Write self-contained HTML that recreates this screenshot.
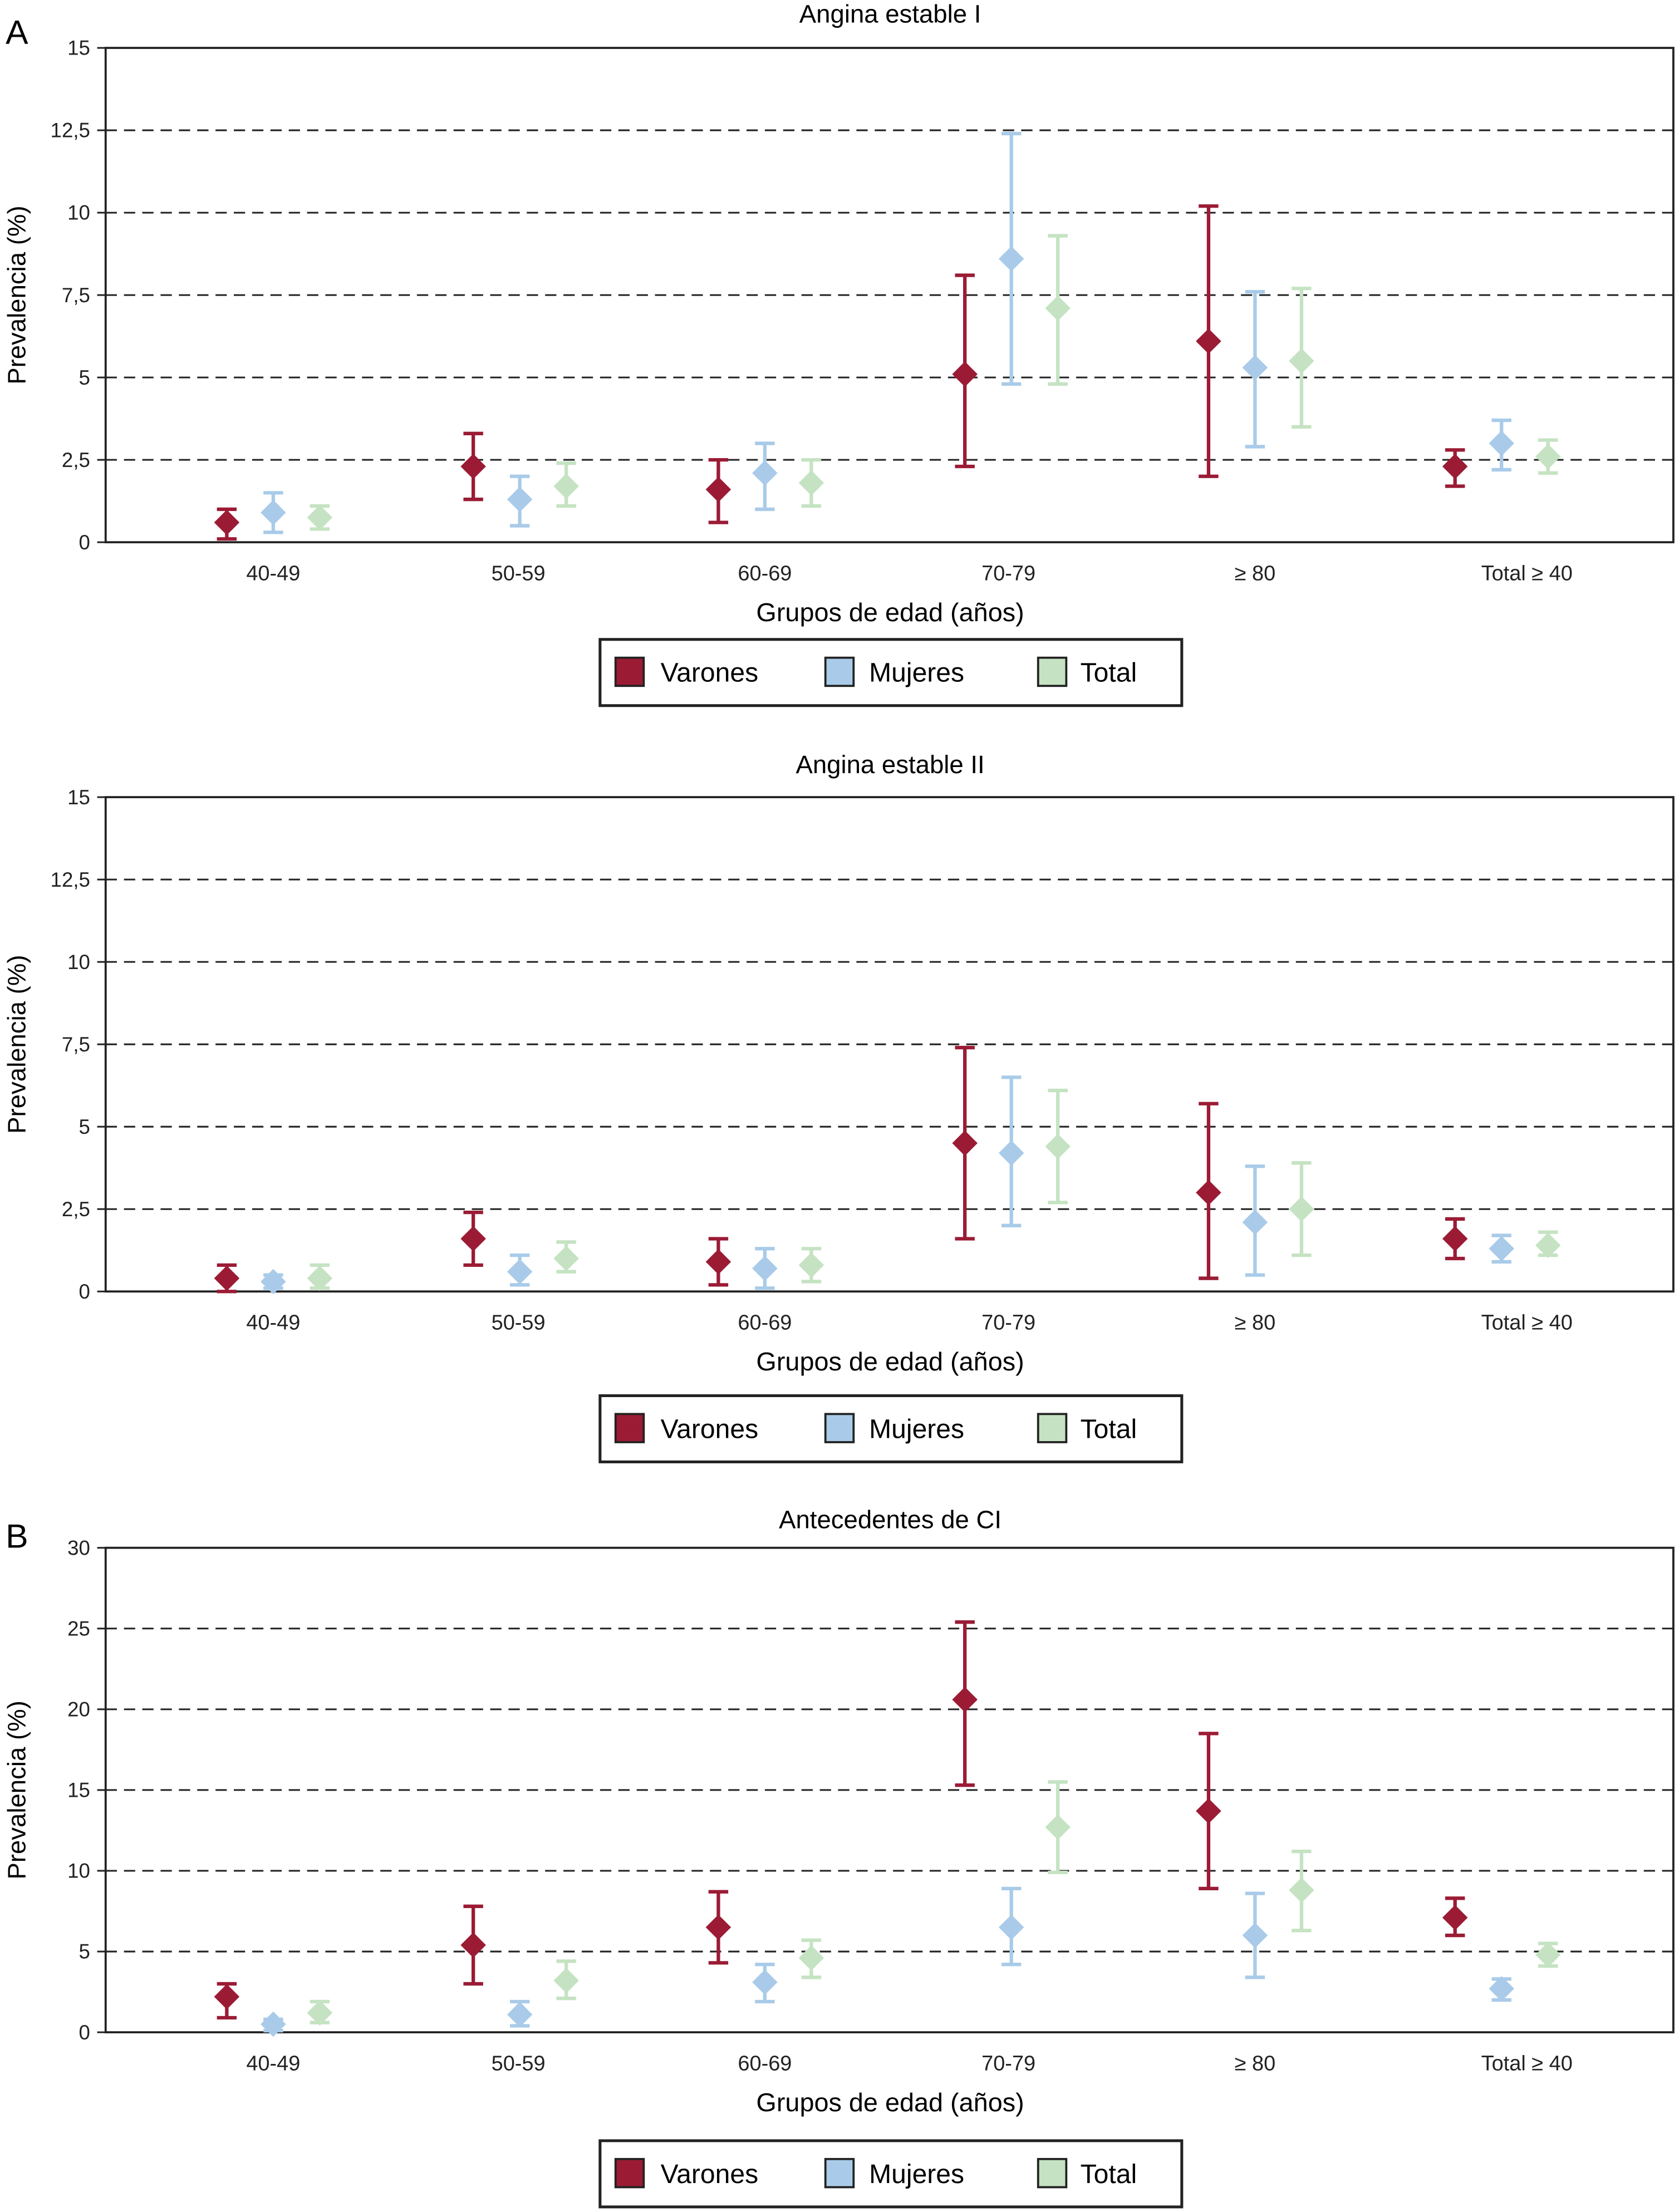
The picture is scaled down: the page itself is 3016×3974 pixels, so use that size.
<!DOCTYPE html>
<html><head><meta charset="utf-8"><style>html,body{margin:0;padding:0;background:#fff}svg{display:block}</style></head>
<body>
<svg id="fig" xmlns="http://www.w3.org/2000/svg" width="3016" height="3974" viewBox="0 0 1192 1570.6" font-family="Liberation Sans, sans-serif">
<text x="4" y="31" font-size="24">A</text>
<text x="4" y="1099" font-size="24">B</text>
</svg>
<script>
const categories = ["40-49","50-59","60-69","70-79","\u2265 80","Total \u2265 40"];
const seriesNames = ["Varones","Mujeres","Total"];
const colors = ["#9b1b35","#a9cbe9","#c5e3c2"];
// Panel 1: Angina estable I
const p1Mean = [[0.6,2.3,1.6,5.1,6.1,2.3],[0.9,1.3,2.1,8.6,5.3,3.0],[0.75,1.7,1.8,7.1,5.5,2.6]];
const p1Low  = [[0.1,1.3,0.6,2.3,2.0,1.7],[0.3,0.5,1.0,4.8,2.9,2.2],[0.4,1.1,1.1,4.8,3.5,2.1]];
const p1High = [[1.0,3.3,2.5,8.1,10.2,2.8],[1.5,2.0,3.0,12.4,7.6,3.7],[1.1,2.4,2.5,9.3,7.7,3.1]];
const p1Ticks = ["0","2,5","5","7,5","10","12,5","15"];
// Panel 2: Angina estable II
const p2Mean = [[0.4,1.6,0.9,4.5,3.0,1.6],[0.3,0.6,0.7,4.2,2.1,1.3],[0.4,1.0,0.8,4.4,2.5,1.4]];
const p2Low  = [[0.0,0.8,0.2,1.6,0.4,1.0],[0.1,0.2,0.1,2.0,0.5,0.9],[0.1,0.6,0.3,2.7,1.1,1.1]];
const p2High = [[0.8,2.4,1.6,7.4,5.7,2.2],[0.5,1.1,1.3,6.5,3.8,1.7],[0.8,1.5,1.3,6.1,3.9,1.8]];
const p2Ticks = ["0","2,5","5","7,5","10","12,5","15"];
// Panel B: Antecedentes de CI
const p3Mean = [[2.2,5.4,6.5,20.6,13.7,7.1],[0.5,1.1,3.1,6.5,6.0,2.7],[1.2,3.2,4.6,12.7,8.8,4.8]];
const p3Low  = [[0.9,3.0,4.3,15.3,8.9,6.0],[0.1,0.4,1.9,4.2,3.4,2.0],[0.6,2.1,3.4,9.9,6.3,4.1]];
const p3High = [[3.0,7.8,8.7,25.4,18.5,8.3],[0.8,1.9,4.2,8.9,8.6,3.3],[1.9,4.4,5.7,15.5,11.2,5.5]];
const p3Ticks = ["0","5","10","15","20","25","30"];

const NS="http://www.w3.org/2000/svg";
const svg=document.getElementById('fig');
function mk(tag,attrs,parent){const e=document.createElementNS(NS,tag);for(const k in attrs)e.setAttribute(k,attrs[k]);(parent||svg).appendChild(e);return e;}
// band positions (x-axis function): equally spaced-ish category bands
const L=75,R=1188;
function bandX(i){return [194,369,543,718,891,1066][i];}
function labelX(i){return [194,368,543,716,891,1084][i];}
function panel(cfg){
  const g=mk('g',{});
  
  
  const T=cfg.top,B=cfg.bottom,max=cfg.max;
  const y=v=>B-(v/max)*(B-T);
  const xs=(i,s)=>bandX(i)+(s-1)*33;
  const t=mk('text',{x:632,y:cfg.titleY,'font-size':18,'text-anchor':'middle'},g);t.textContent=cfg.title;
  
  
  const n=cfg.ticks.length;
  for(let k=0;k<n;k++){
    const v=max*k/(n-1), yy=y(v);
    if(k>0&&k<n-1){const gl=mk('line',{x1:L,x2:R,y1:yy,y2:yy,stroke:'#222','stroke-width':1.2,'stroke-dasharray':'8,5'},g);
      
      }
    mk('line',{x1:L-6,x2:L,y1:yy,y2:yy,stroke:'#222','stroke-width':1.2},g);
    const tl=mk('text',{x:L-11,y:yy+5,'font-size':14.5,'text-anchor':'end',fill:'#222'},g);tl.textContent=cfg.ticks[k];
    
    
  }
  const box=mk('rect',{x:L,y:T,width:R-L,height:B-T,fill:'none',stroke:'#222','stroke-width':1.5},g);
  
  
  const yt=mk('text',{x:0,y:0,'font-size':18,'text-anchor':'middle',transform:`translate(18,${(T+B)/2}) rotate(-90)`},g);yt.textContent='Prevalencia (%)';
  
  
  categories.forEach((c,i)=>{const xl=mk('text',{x:labelX(i),y:B+27,'font-size':15,'text-anchor':'middle',fill:'#222'},g);xl.textContent=c;
    
    });
  const xt=mk('text',{x:632,y:B+56,'font-size':18.5,'text-anchor':'middle'},g);xt.textContent='Grupos de edad (años)';
  
  
  for(let s=0;s<3;s++){for(let i=0;i<6;i++){
    const x=xs(i,s),col=colors[s];
    const eg=mk('g',{stroke:col,'stroke-width':2.5,fill:col},g);
    
    
    const yl=y(cfg.low[s][i]),yh=y(cfg.high[s][i]),ym=y(cfg.mean[s][i]);
    mk('line',{x1:x,x2:x,y1:yl,y2:yh},eg);
    mk('line',{x1:x-7,x2:x+7,y1:yl,y2:yl},eg);
    mk('line',{x1:x-7,x2:x+7,y1:yh,y2:yh},eg);
    const d=mk('polygon',{points:`${x-9},${ym} ${x},${ym-9} ${x+9},${ym} ${x},${ym+9}`,stroke:'none'},eg);
    
    
  }}
  const lt=cfg.legY;
  const lg=mk('g',{},g);
  
  
  mk('rect',{x:426,y:lt,width:413,height:47,fill:'#fff',stroke:'#222','stroke-width':2},lg);
  const sx=[437,586,737],tx=[469,617,767];
  for(let s=0;s<3;s++){
    const sw=mk('rect',{x:sx[s],y:lt+13,width:20,height:20,fill:colors[s],stroke:'#222','stroke-width':1.5},lg);
    
    
    const lt2=mk('text',{x:tx[s],y:lt+30,'font-size':19},lg);lt2.textContent=seriesNames[s];
    
    
  }
}
panel({name:'chart-angina-estable-1',title:'Angina estable I',titleY:16,top:34,bottom:385,max:15,ticks:p1Ticks,mean:p1Mean,low:p1Low,high:p1High,legY:454});
panel({name:'chart-angina-estable-2',title:'Angina estable II',titleY:549,top:566,bottom:917,max:15,ticks:p2Ticks,mean:p2Mean,low:p2Low,high:p2High,legY:991});
panel({name:'chart-antecedentes-ci',title:'Antecedentes de CI',titleY:1085,top:1099,bottom:1443,max:30,ticks:p3Ticks,mean:p3Mean,low:p3Low,high:p3High,legY:1520});
</script>
</body></html>
